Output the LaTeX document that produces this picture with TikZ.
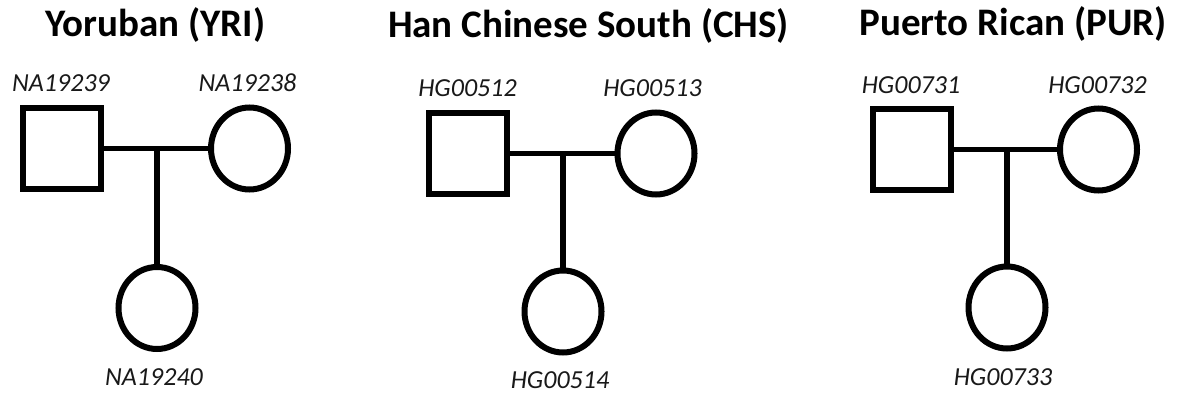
\documentclass[tikz,border=0pt]{standalone}
\usepackage{fontspec}
\setmainfont{Carlito}
\usetikzlibrary{shapes.geometric}
\tikzset{
  male/.style={draw, line width=6pt, rectangle, minimum width=78pt, minimum height=81pt, inner sep=0pt},
  female/.style={draw, line width=6pt, ellipse, minimum width=77pt, minimum height=82pt, inner sep=0pt},
  link/.style={line width=5.5pt},
  idlabel/.style={font=\fontsize{26}{30}\selectfont\itshape, inner sep=0pt, text=black!90},
  title/.style={font=\fontsize{39}{44}\selectfont\bfseries, inner sep=0pt, anchor=base}
}
\begin{document}
\begin{tikzpicture}[x=1pt,y=-1pt]
\useasboundingbox (0,0) rectangle (1180,398);
% YRI
\node[title] (t1) at (155.5,37) {Yoruban (YRI)};
\node[male] (m1) at (62,148.5) {};
\node[female] (f1) at (249.5,148.5) {};
\node[female] (c1) at (157,308) {};
\coordinate (j1) at (157,148.5);
\draw[link] (m1) -- (f1);
\draw[link] (j1) -- (c1);
\node[idlabel] (l11) at (61,83) {NA19239};
\node[idlabel] (l12) at (247.5,83) {NA19238};
\node[idlabel] (l13) at (154,377) {NA19240};
% CHS
\node[title] (t2) at (588.5,38) {Han Chinese South (CHS)};
\node[male] (m2) at (468,153.5) {};
\node[female] (f2) at (656,153.5) {};
\node[female] (c2) at (563,311.5) {};
\coordinate (j2) at (563,153.5);
\draw[link] (m2) -- (f2);
\draw[link] (j2) -- (c2);
\node[idlabel] (l21) at (467.5,88) {HG00512};
\node[idlabel] (l22) at (652.5,88) {HG00513};
\node[idlabel] (l23) at (560,380) {HG00514};
% PUR
\node[title] (t3) at (1013,36) {Puerto Rican (PUR)};
\node[male] (m3) at (911.5,149.5) {};
\node[female] (f3) at (1098.5,149.5) {};
\node[female] (c3) at (1007,307.5) {};
\coordinate (j3) at (1007,149.5);
\draw[link] (m3) -- (f3);
\draw[link] (j3) -- (c3);
\node[idlabel] (l31) at (911,85) {HG00731};
\node[idlabel] (l32) at (1097.5,85) {HG00732};
\node[idlabel] (l33) at (1003,377) {HG00733};
\end{tikzpicture}
\end{document}
